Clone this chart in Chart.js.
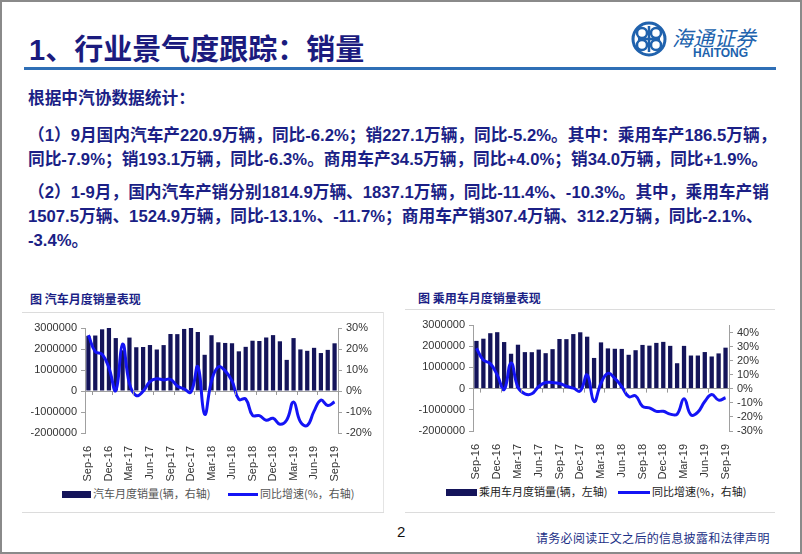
<!DOCTYPE html>
<html lang="zh">
<head>
<meta charset="UTF-8">
<title>行业景气度跟踪：销量</title>
<script src="https://cdn.jsdelivr.net/npm/chart.js"></script>
<style>
    * { margin: 0; padding: 0; box-sizing: border-box; }
    body {
        width: 802px; height: 554px; background: #fff; position: relative; overflow: hidden;
        font-family: "Liberation Sans", Arial, "Noto Sans CJK SC", sans-serif;
    }
    .frame { position: absolute; left: 0; top: 0; width: 802px; height: 554px; border: 2px solid #8a8a8a; }
    .title {
        position: absolute; left: 29px; top: 26px; font-size: 29px; font-weight: bold;
        color: #1b1b7e; font-family: "Liberation Sans", "Noto Sans CJK SC", sans-serif;
    }
    .rule { position: absolute; left: 24px; top: 67px; width: 752px; height: 3px; background: #2f6fb6; }
    .logo-text { position: absolute; left: 672px; top: 22px; font-size: 21px; color: #2062ad; font-family: "Noto Sans CJK SC"; font-style: italic; }
    .logo-en { position: absolute; left: 693px; top: 46px; font-size: 12px; font-weight: bold; color: #2062ad; }
    .body {
        position: absolute; left: 28px; font-size: 16.7px; font-weight: bold; color: #1b1f86;
        white-space: nowrap; font-family: "Liberation Sans", "Noto Sans CJK SC", sans-serif;
    }
    .cap { position: absolute; font-size: 12px; font-weight: bold; color: #1b1f86; font-family: "Noto Sans CJK SC"; }
    .hline { position: absolute; height: 1px; background: #dcdcdc; }
    .vline { position: absolute; width: 1px; background: #e4e4e4; }
    .chart { position: absolute; }
    .lg { position: absolute; font-size: 11px; font-family: "Noto Sans CJK SC"; white-space: nowrap; }
    .sw-bar { position: absolute; height: 7px; background: #14145a; }
    .sw-line { position: absolute; height: 3px; background: #1414f5; }
    .page { position: absolute; left: 397px; top: 523px; font-size: 15px; color: #111; }
    .foot { position: absolute; left: 536px; top: 529px; font-size: 12px; color: #1b2f86; font-family: "Noto Sans CJK SC"; letter-spacing: 0.3px; }
</style>
</head>
<body>
<div class="frame"></div>
<div class="title">1、行业景气度跟踪：销量</div>
<div class="rule"></div>
<svg style="position:absolute;left:630px;top:20px" width="38" height="38" viewBox="0 0 38 38">
    <circle cx="19" cy="19" r="16" fill="none" stroke="#2062ad" stroke-width="3"/>
    <circle cx="12" cy="13" r="5" fill="none" stroke="#2062ad" stroke-width="2.5"/>
    <circle cx="26" cy="13" r="5" fill="none" stroke="#2062ad" stroke-width="2.5"/>
    <circle cx="12" cy="25" r="5" fill="none" stroke="#2062ad" stroke-width="2.5"/>
    <circle cx="26" cy="25" r="5" fill="none" stroke="#2062ad" stroke-width="2.5"/>
    <path d="M19 6 V32 M8 19 H30" stroke="#2062ad" stroke-width="2.5"/>
</svg>
<div class="logo-text">海通证券</div>
<div class="logo-en">HAITONG</div>

<div class="body" style="top:85px">根据中汽协数据统计：</div>
<div class="body" style="top:122px">（1）9月国内汽车产220.9万辆，同比-6.2%；销227.1万辆，同比-5.2%。其中：乘用车产186.5万辆，</div>
<div class="body" style="top:146px">同比-7.9%；销193.1万辆，同比-6.3%。商用车产34.5万辆，同比+4.0%；销34.0万辆，同比+1.9%。</div>
<div class="body" style="top:179px">（2）1-9月，国内汽车产销分别1814.9万辆、1837.1万辆，同比-11.4%、-10.3%。其中，乘用车产销</div>
<div class="body" style="top:203px">1507.5万辆、1524.9万辆，同比-13.1%、-11.7%；商用车产销307.4万辆、312.2万辆，同比-2.1%、</div>
<div class="body" style="top:227px">-3.4%。</div>

<div class="cap" style="left:30px;top:290px">图 汽车月度销量表现</div>
<div class="hline" style="left:22px;top:312px;width:362px"></div>
<div class="vline" style="left:383px;top:312px;height:200px"></div>
<div class="hline" style="left:22px;top:512px;width:362px"></div>
<div class="chart" style="left:20px;top:312px;width:365px;height:170px"><canvas id="c1"></canvas></div>
<div class="sw-bar" style="left:62px;top:491px;width:29px"></div>
<div class="lg" style="left:93px;top:485px;color:#555">汽车月度销量(辆，右轴)</div>
<div class="sw-line" style="left:228px;top:493px;width:30px"></div>
<div class="lg" style="left:260px;top:485px;color:#555">同比增速(%，右轴)</div>

<div class="cap" style="left:418px;top:289px">图 乘用车月度销量表现</div>
<div class="hline" style="left:405px;top:309px;width:370px"></div>
<div class="hline" style="left:405px;top:512px;width:370px"></div>
<div class="chart" style="left:405px;top:309px;width:370px;height:171px"><canvas id="c2"></canvas></div>
<div class="sw-bar" style="left:446px;top:489px;width:31px"></div>
<div class="lg" style="left:479px;top:483px;color:#222">乘用车月度销量(辆，左轴)</div>
<div class="sw-line" style="left:618px;top:491px;width:32px"></div>
<div class="lg" style="left:652px;top:483px;color:#222">同比增速(%，右轴)</div>

<div class="page">2</div>
<div class="foot">请务必阅读正文之后的信息披露和法律声明</div>

<script>
    // months Sep-16 .. Sep-19
    const months = ['Sep-16','Oct-16','Nov-16','Dec-16','Jan-17','Feb-17','Mar-17','Apr-17','May-17','Jun-17','Jul-17','Aug-17',
        'Sep-17','Oct-17','Nov-17','Dec-17','Jan-18','Feb-18','Mar-18','Apr-18','May-18','Jun-18','Jul-18','Aug-18',
        'Sep-18','Oct-18','Nov-18','Dec-18','Jan-19','Feb-19','Mar-19','Apr-19','May-19','Jun-19','Jul-19','Aug-19','Sep-19'];

    // 汽车月度销量 (辆) and 同比 (%)
    const autoSales = [2627000, 2642000, 2937000, 3060000, 2520000, 1939000, 2544000, 2084000, 2096000, 2189000, 1976000, 2186000,
        2713000, 2708000, 2955000, 3049000, 2810000, 1724000, 2656000, 2319000, 2288000, 2274000, 1889000, 2103000,
        2394000, 2380000, 2548000, 2661000, 2367000, 1482000, 2520000, 1980000, 1913000, 2056000, 1808000, 1958000, 2271000];
    const autoYoY = [26.6, 18.8, 17.5, 11.0, 0.2, 22.3, 3.5, -2.2, -0.1, 4.5, 5.8, 5.3,
        5.5, 2.4, 1.0, -0.5, 11.6, -11.1, 4.7, 11.5, 9.6, 4.8, -4.0, -3.8,
        -11.6, -11.7, -13.9, -13.0, -15.8, -13.8, -5.2, -14.6, -16.4, -9.6, -4.3, -6.9, -5.2];

    // 乘用车月度销量 (辆) and 同比 (%)
    const carSales = [2250000, 2354000, 2613000, 2661000, 2196000, 1644000, 2070000, 1721000, 1718000, 1840000, 1671000, 1861000,
        2340000, 2333000, 2572000, 2656000, 2449000, 1446000, 2180000, 1896000, 1879000, 1872000, 1595000, 1811000,
        2060000, 2026000, 2156000, 2204000, 2016000, 1197000, 2015000, 1560000, 1560000, 1724000, 1515000, 1660000, 1931000];
    const carYoY = [29.0, 20.5, 18.0, 10.0, -0.5, 18.5, 1.0, -3.5, -3.5, 1.7, 4.5, 4.5,
        3.8, 1.9, 0.5, -1.5, 10.0, -9.0, 4.0, 11.0, 7.5, 1.6, -5.5, -5.0,
        -12.5, -13.5, -16.0, -16.0, -18.0, -18.0, -7.0, -18.5, -16.5, -9.0, -4.0, -8.0, -6.3];

    const leftTicks = [-2000000, -1000000, 0, 1000000, 2000000, 3000000];

    const zeroTicks = {
        id: 'zeroTicks',
        afterDraw(chart) {
            const x = chart.scales.x, y = chart.scales.y, ctx = chart.ctx;
            const y0 = y.getPixelForValue(0);
            const step = x.getPixelForValue(1) - x.getPixelForValue(0);
            ctx.save();
            ctx.strokeStyle = '#999';
            ctx.lineWidth = 1;
            for (let i = 0; i < months.length; i += 3) {
                const px = Math.round(x.getPixelForValue(i) + step / 2) + 0.5;
                ctx.beginPath(); ctx.moveTo(px, y0); ctx.lineTo(px, y0 + 4); ctx.stroke();
            }
            ctx.restore();
        }
    };

    function makeChart(id, sales, yoy, rmin, rmax, lw, rw, xh) {
        return new Chart(document.getElementById(id), {
            type: 'bar',
            data: {
                labels: months,
                datasets: [
                    { type: 'line', data: yoy, yAxisID: 'y2', borderColor: '#1414f5', borderWidth: 3,
                      pointRadius: 0, tension: 0.45, fill: false, order: 0 },
                    { type: 'bar', data: sales, yAxisID: 'y', backgroundColor: '#14145a',
                      barPercentage: 0.62, categoryPercentage: 1, order: 1 }
                ]
            },
            options: {
                responsive: true, maintainAspectRatio: false, animation: false,
                layout: { padding: { top: 16, left: 0, right: 0, bottom: 0 } },
                plugins: { legend: { display: false }, tooltip: { enabled: false } },
                scales: {
                    x: {
                        grid: { display: false }, border: { display: false },
                        ticks: { autoSkip: false, minRotation: 90, maxRotation: 90, padding: 5,
                                 color: '#333', font: { family: 'Liberation Sans', size: 11 },
                                 callback: (v, i) => i % 3 === 0 ? months[i] : null },
                        afterFit: s => { s.height = xh; }
                    },
                    y: {
                        position: 'left', min: -2000000, max: 3000000,
                        afterBuildTicks: s => { s.ticks = leftTicks.map(v => ({ value: v })); },
                        grid: { color: c => c.tick && c.tick.value === 0 ? '#a0a0a0' : 'rgba(0,0,0,0)',
                                tickColor: '#a0a0a0', tickLength: 4 },
                        border: { color: '#a0a0a0' },
                        ticks: { autoSkip: false, color: '#333', padding: 4, font: { family: 'Liberation Sans', size: 11 },
                                 callback: v => String(v) },
                        afterFit: s => { s.width = lw; }
                    },
                    y2: {
                        position: 'right', min: rmin, max: rmax,
                        afterBuildTicks: s => {
                            const t = [];
                            for (let v = rmin; v <= rmax; v += 10) t.push({ value: v });
                            s.ticks = t;
                        },
                        grid: { drawOnChartArea: false, tickColor: '#a0a0a0', tickLength: 4 },
                        border: { color: '#a0a0a0' },
                        ticks: { autoSkip: false, color: '#333', padding: 4, font: { family: 'Liberation Sans', size: 11 },
                                 callback: v => v + '%' },
                        afterFit: s => { s.width = rw; }
                    }
                }
            },
            plugins: [zeroTicks]
        });
    }

    makeChart('c1', autoSales, autoYoY, -20, 30, 65, 47, 49);
    makeChart('c2', carSales, carYoY, -30, 45.5, 68, 46, 49);
</script>
</body>
</html>
